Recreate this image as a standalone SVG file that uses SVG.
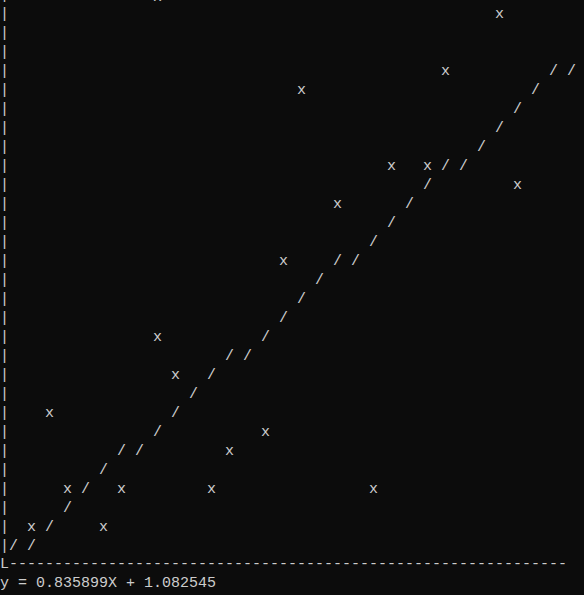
<svg xmlns="http://www.w3.org/2000/svg" width="584" height="595" viewBox="0 0 584 595">
<style>
text{font-family:"Liberation Mono","DejaVu Sans Mono",monospace;font-size:15px;fill:#cccccc;white-space:pre}
</style>
<rect width="584" height="595" fill="#0c0c0c"/>
<g id="axis">
<text y="-1"><tspan x="0">|</tspan></text>
<text y="1"><tspan x="153">x</tspan></text>
<text y="18"><tspan x="0">|</tspan><tspan x="495">x</tspan></text>
<text y="37"><tspan x="0">|</tspan></text>
<text y="56"><tspan x="0">|</tspan></text>
<text y="75"><tspan x="0">|</tspan><tspan x="441">x</tspan><tspan x="549">/</tspan><tspan x="567">/</tspan></text>
<text y="94"><tspan x="0">|</tspan><tspan x="297">x</tspan><tspan x="531">/</tspan></text>
<text y="113"><tspan x="0">|</tspan><tspan x="513">/</tspan></text>
<text y="132"><tspan x="0">|</tspan><tspan x="495">/</tspan></text>
<text y="151"><tspan x="0">|</tspan><tspan x="477">/</tspan></text>
<text y="170"><tspan x="0">|</tspan><tspan x="387">x</tspan><tspan x="423">x</tspan><tspan x="441">/</tspan><tspan x="459">/</tspan></text>
<text y="189"><tspan x="0">|</tspan><tspan x="423">/</tspan><tspan x="513">x</tspan></text>
<text y="208"><tspan x="0">|</tspan><tspan x="333">x</tspan><tspan x="405">/</tspan></text>
<text y="227"><tspan x="0">|</tspan><tspan x="387">/</tspan></text>
<text y="246"><tspan x="0">|</tspan><tspan x="369">/</tspan></text>
<text y="265"><tspan x="0">|</tspan><tspan x="279">x</tspan><tspan x="333">/</tspan><tspan x="351">/</tspan></text>
<text y="284"><tspan x="0">|</tspan><tspan x="315">/</tspan></text>
<text y="303"><tspan x="0">|</tspan><tspan x="297">/</tspan></text>
<text y="322"><tspan x="0">|</tspan><tspan x="279">/</tspan></text>
<text y="341"><tspan x="0">|</tspan><tspan x="153">x</tspan><tspan x="261">/</tspan></text>
<text y="360"><tspan x="0">|</tspan><tspan x="225">/</tspan><tspan x="243">/</tspan></text>
<text y="379"><tspan x="0">|</tspan><tspan x="171">x</tspan><tspan x="207">/</tspan></text>
<text y="398"><tspan x="0">|</tspan><tspan x="189">/</tspan></text>
<text y="417"><tspan x="0">|</tspan><tspan x="45">x</tspan><tspan x="171">/</tspan></text>
<text y="436"><tspan x="0">|</tspan><tspan x="153">/</tspan><tspan x="261">x</tspan></text>
<text y="455"><tspan x="0">|</tspan><tspan x="117">/</tspan><tspan x="135">/</tspan><tspan x="225">x</tspan></text>
<text y="474"><tspan x="0">|</tspan><tspan x="99">/</tspan></text>
<text y="493"><tspan x="0">|</tspan><tspan x="63">x</tspan><tspan x="81">/</tspan><tspan x="117">x</tspan><tspan x="207">x</tspan><tspan x="369">x</tspan></text>
<text y="512"><tspan x="0">|</tspan><tspan x="63">/</tspan></text>
<text y="531"><tspan x="0">|</tspan><tspan x="27">x</tspan><tspan x="45">/</tspan><tspan x="99">x</tspan></text>
<text y="550"><tspan x="0">|</tspan><tspan x="9">/</tspan><tspan x="27">/</tspan></text>
<text x="0" y="568">L--------------------------------------------------------------</text>
</g>
<text id="equation" x="0" y="587">y = 0.835899X + 1.082545</text>
</svg>
